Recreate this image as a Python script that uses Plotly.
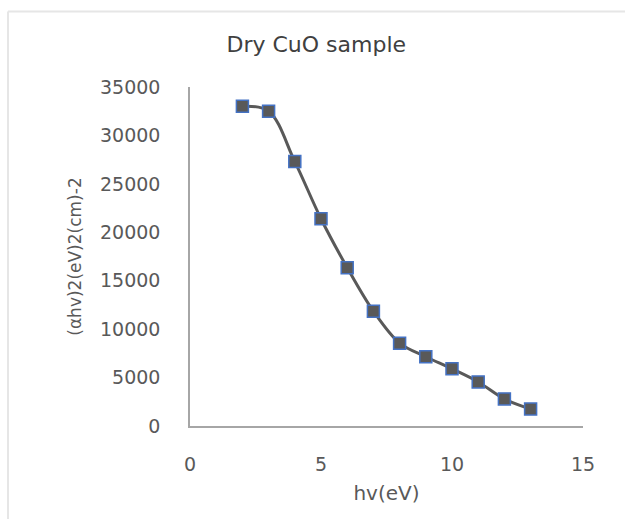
import plotly.graph_objects as go

# Data
hv_eV = [2, 3, 4, 5, 6, 7, 8, 9, 10, 11, 12, 13]
alpha_hv_sq = [33000, 32500, 27300, 21400, 16350, 11850, 8550, 7150, 5900, 4550, 2800, 1750]

title_text = "Dry CuO sample"
x_title = "hv(eV)"
y_title = "(αhv)2(eV)2(cm)-2"
x_ticks = [0, 5, 10, 15]
y_ticks = [0, 5000, 10000, 15000, 20000, 25000, 30000, 35000]

W, H = 625, 519
ML, MR, MT, MB = 190, 42, 87, 93
PW, PH = W - ML - MR, H - MT - MB

def px_to_paper_x(px):
    return (px - ML) / PW

def px_to_paper_y(py):
    return (H - MB - py) / PH

fig = go.Figure()
fig.add_trace(go.Scatter(
    x=hv_eV, y=alpha_hv_sq,
    mode="lines+markers",
    line=dict(shape="spline", smoothing=1.0, color="#595959", width=3),
    marker=dict(symbol="square", size=12, color="#595959",
                line=dict(color="#4472C4", width=1.5)),
    showlegend=False,
))

tick_font = dict(family="DejaVu Sans", size=19, color="#595959")

fig.update_layout(
    width=W, height=H,
    margin=dict(l=ML, r=MR, t=MT, b=MB),
    paper_bgcolor="white", plot_bgcolor="white",
    title=dict(text=title_text, x=0.506, xref="container", xanchor="center",
               y=1 - 44 / H, yref="container", yanchor="middle",
               font=dict(family="DejaVu Sans", size=22, color="#404040")),
    xaxis=dict(range=[0, 15], tickvals=x_ticks, showgrid=False, zeroline=False,
               showline=True, linecolor="#a6a6a6", linewidth=1.5,
               ticks="", tickfont=tick_font, ticklabelstandoff=20,
               title=dict(text=x_title, standoff=12,
                          font=dict(family="DejaVu Sans", size=20, color="#595959"))),
    yaxis=dict(range=[0, 35000], tickvals=y_ticks, tickformat="d",
               showgrid=False, zeroline=False,
               showline=True, linecolor="#a6a6a6", linewidth=1.5,
               ticks="", tickfont=tick_font, ticklabelstandoff=24,
               title=dict(text=y_title, standoff=14,
                          font=dict(family="DejaVu Sans", size=17, color="#595959"))),
)

# light chart-area border (top and left edges)
border = dict(color="#e6e6e6", width=2)
fig.add_shape(type="line", xref="paper", yref="paper",
              x0=px_to_paper_x(8), x1=px_to_paper_x(W + 2),
              y0=px_to_paper_y(11.5), y1=px_to_paper_y(11.5), line=border)
fig.add_shape(type="line", xref="paper", yref="paper",
              x0=px_to_paper_x(8), x1=px_to_paper_x(8),
              y0=px_to_paper_y(11.5), y1=px_to_paper_y(H + 2), line=border)

fig.write_html("out.html")
